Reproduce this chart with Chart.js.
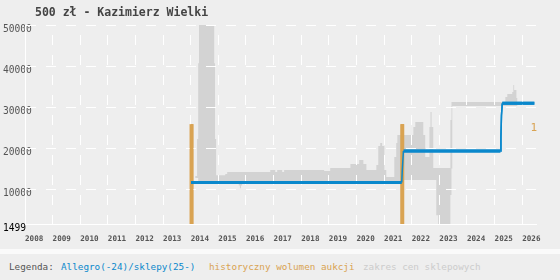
<!DOCTYPE html>
<html>
<head>
  <meta charset="utf-8">
  <title>500 zł - Kazimierz Wielki</title>
  <script src="https://cdn.jsdelivr.net/npm/chart.js"></script>
  <style>
    body {
      margin: 0;
      background: #eeeeee;
      font-family: "DejaVu Sans Mono", monospace;
    }
    .wrap {
      position: relative;
      width: 560px;
      height: 249px;
    }
    .title {
      position: absolute;
      left: 35px;
      top: 5px;
      font-size: 11.5px;
      font-weight: bold;
      color: #444;
    }
    .legend {
      position: relative;
      border-top: 5px solid #fafafa;
      height: 26px;
      line-height: 26px;
      font-size: 9.3px;
      white-space: pre;
    }
    .legend span {
      position: absolute;
      top: 0;
    }
  </style>
</head>
<body>
<div class="wrap">
  <canvas id="chart" width="560" height="249"></canvas>
  <div class="title">500 zł - Kazimierz Wielki</div>
</div>
<div class="legend">
  <span style="left:9px;color:#555">Legenda:</span>
  <span style="left:61px;color:#0a88cc">Allegro(-24)/sklepy(25-)</span>
  <span style="left:209px;color:#d9a352">historyczny wolumen aukcji</span>
  <span style="left:363px;color:#cccccc">zakres cen sklepowych</span>
</div>

<script>
  // tick labels
  const yearTicks = [2008, 2009, 2010, 2011, 2012, 2013, 2014, 2015, 2016, 2017,
                     2018, 2019, 2020, 2021, 2022, 2023, 2024, 2025, 2026];
  const priceTicks = [1499, 10000, 20000, 30000, 40000, 50000];
  const volumeTicks = [1];

  // Allegro price (blue line)
  const allegroDates  = [2014.01, 2021.64, 2021.66, 2021.70, 2025.21, 2025.23, 2025.25, 2025.28, 2026.44];
  const allegroPrices = [11600, 11600, 14700, 19300, 19300, 22600, 28000, 30900, 30900];

  // auction volume (orange bars)
  const volumeDates  = [2014.03, 2021.66];
  const volumeCounts = [1, 1];

  // shop price range (gray band), each value holds until the next date
  const shopDates = [2014.16, 2014.23, 2014.27, 2014.30, 2014.85, 2014.88, 2014.92, 2015.25, 2015.32,
                     2015.74, 2015.78, 2015.82, 2015.86, 2016.88, 2017.06, 2017.13, 2017.31, 2017.38,
                     2018.83, 2019.05, 2019.78, 2020.10, 2020.25, 2020.36, 2020.72, 2020.79, 2020.86,
                     2020.93, 2021.01, 2021.08, 2021.37, 2021.44, 2021.48, 2021.70, 2022.06, 2022.13,
                     2022.42, 2022.49, 2022.64, 2022.68, 2022.72, 2022.78, 2022.89, 2022.96, 2023.40,
                     2023.44, 2023.47, 2025.39, 2025.46, 2025.64, 2025.68, 2025.71, 2025.79, 2025.83];
  const shopMin = [12700, 12700, 11900, 11900, 11900, 11900, 11900, 11900, 11900,
                   10900, 10200, 10900, 11900, 11900, 11900, 11900, 11900, 11900,
                   11900, 11900, 11900, 11900, 11900, 11900, 11900, 11900, 11900,
                   11900, 11900, 11900, 11900, 11900, 11900, 12200, 12200, 12200,
                   12200, 12200, 12200, 12200, 12200, 12200, 3660, 500, 8540,
                   15000, 30240, 30240, 30240, 30240, 30240, 30240, 30240, 30240];
  const shopMax = [13200, 22200, 40700, 52000, 40700, 22200, 13400, 13700, 14150,
                   14150, 14150, 14150, 14150, 14630, 14150, 14630, 14150, 14630,
                   14390, 15120, 16100, 17070, 16100, 14630, 15850, 20490, 21220,
                   20490, 14630, 12930, 17800, 21220, 23170, 23170, 25120, 26340,
                   23170, 17800, 25120, 28780, 25120, 15120, 15120, 15120, 26830,
                   31220, 31220, 32440, 33170, 33660, 35370, 34150, 32200, 30240];

  const BLUE = '#0a88cc';
  const ORANGE = '#d9a352';
  const BAND = '#d3d3d3';

  const pts = (xs, ys) => xs.map((x, i) => ({x: x, y: ys[i]}));

  // grid goes over the gray band, so put the blue line and bars back on top
  const onTop = {
    id: 'onTop',
    afterDraw(chart) {
      const a = chart.chartArea;
      const ctx = chart.ctx;
      ctx.save();
      ctx.beginPath();
      ctx.rect(a.left, a.top, a.right - a.left, a.bottom - a.top);
      ctx.clip();
      chart.getDatasetMeta(1).controller.draw();
      chart.getDatasetMeta(0).controller.draw();
      ctx.restore();
    }
  };

  new Chart(document.getElementById('chart'), {
    data: {
      datasets: [
        {
          type: 'line',
          label: 'Allegro(-24)/sklepy(25-)',
          data: pts(allegroDates, allegroPrices),
          borderColor: BLUE,
          borderWidth: 3,
          pointRadius: 0,
          segment: {
            borderWidth: c => c.p0.parsed.y === c.p1.parsed.y ? 3 : 1.5
          },
          yAxisID: 'y',
          order: 0
        },
        {
          type: 'bar',
          label: 'historyczny wolumen aukcji',
          data: pts(volumeDates, volumeCounts),
          backgroundColor: ORANGE,
          barThickness: 3,
          yAxisID: 'vol',
          order: 1
        },
        {
          type: 'line',
          label: 'min',
          data: pts(shopDates, shopMin),
          stepped: true,
          borderColor: 'rgba(0,0,0,0)',
          borderWidth: 0,
          pointRadius: 0,
          fill: false,
          yAxisID: 'y',
          order: 2
        },
        {
          type: 'line',
          label: 'zakres cen sklepowych',
          data: pts(shopDates, shopMax),
          stepped: true,
          borderColor: 'rgba(0,0,0,0)',
          borderWidth: 0,
          pointRadius: 0,
          backgroundColor: BAND,
          fill: '-1',
          yAxisID: 'y',
          order: 2
        }
      ]
    },
    options: {
      responsive: false,
      animation: false,
      layout: { padding: { top: 25, right: 24, left: 0, bottom: 0 } },
      plugins: {
        legend: { display: false },
        tooltip: { enabled: false }
      },
      scales: {
        x: {
          type: 'linear',
          offset: false,
          min: 2008,
          max: 2026.5,
          afterBuildTicks: s => { s.ticks = yearTicks.map(v => ({value: v})); },
          afterFit: s => { s.height = 25; s.paddingLeft = 0; s.paddingRight = 0; },
          ticks: {
            align: 'start',
            maxRotation: 0,
            autoSkip: false,
            padding: 10,
            color: '#555',
            font: { family: 'DejaVu Sans Mono', size: 7.6, weight: 'bold' },
            callback: v => String(v)
          },
          grid: { color: '#ffffff', drawTicks: false, offset: false, z: 1 },
          border: { color: '#ffffff', dash: [10, 10], dashOffset: 10, z: 1 }
        },
        y: {
          type: 'linear',
          position: 'left',
          min: 1499,
          max: 50000,
          afterBuildTicks: s => { s.ticks = priceTicks.map(v => ({value: v})); },
          afterFit: s => { s.width = 25; s.paddingTop = 0; s.paddingBottom = 0; },
          ticks: {
            mirror: true,
            padding: -22,
            labelOffset: 4,
            color: c => c.tick.value === 1499 ? '#000' : '#555',
            font: { family: 'DejaVu Sans Mono', size: 9.6 },
            callback: v => String(v)
          },
          grid: { color: '#ffffff', drawTicks: false, z: 1 },
          border: { color: '#ffffff', dash: [10, 10], z: 1 }
        },
        vol: {
          type: 'linear',
          position: 'right',
          min: 0,
          max: 2,
          afterBuildTicks: s => { s.ticks = volumeTicks.map(v => ({value: v})); },
          afterFit: s => { s.width = 0; s.paddingTop = 0; s.paddingBottom = 0; },
          ticks: {
            mirror: true,
            padding: 1,
            labelOffset: 4,
            color: ORANGE,
            font: { family: 'DejaVu Sans Mono', size: 11 },
            callback: v => String(v)
          },
          grid: { display: false, drawTicks: false },
          border: { display: false }
        }
      }
    },
    plugins: [onTop]
  });
</script>
</body>
</html>
